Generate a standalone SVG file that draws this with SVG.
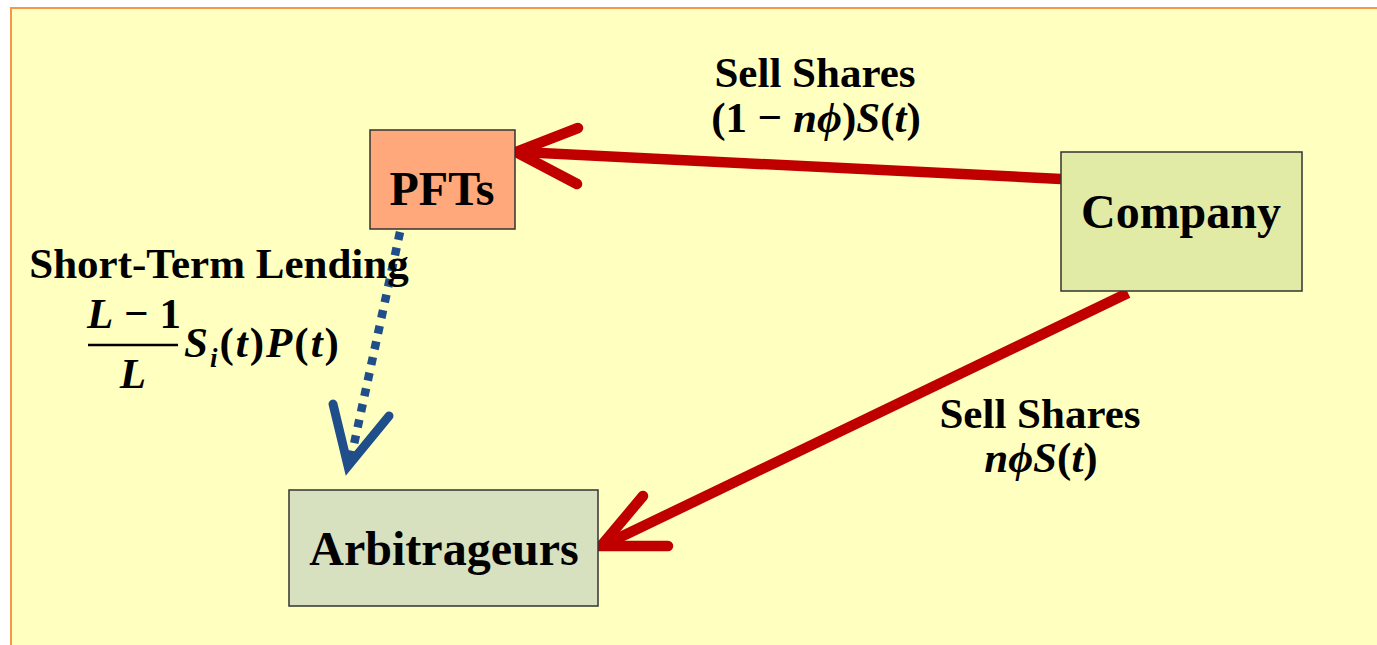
<svg xmlns="http://www.w3.org/2000/svg" width="1377" height="645" viewBox="0 0 1377 645">
  <style>
    text { font-family: "Liberation Serif", "Times New Roman", serif; font-weight: bold; fill: #000; }
    .node rect { stroke: #333; stroke-width: 1.5; }
    .lbl { font-size: 43px; }
    .big { font-size: 48px; }
    .it { font-style: italic; }
    .red { stroke: #C00000; stroke-width: 10.5; fill: none; }
    .redhead { stroke: #C00000; stroke-width: 10.5; fill: none; stroke-linecap: round; stroke-linejoin: miter; }
    .blue { stroke: #1F4E8A; stroke-width: 8.5; fill: none; stroke-dasharray: 8 8; }
    .bluehead { stroke: #1F4E8A; stroke-width: 9; fill: none; stroke-linecap: round; stroke-linejoin: miter; }
  </style>

  <!-- page background -->
  <rect x="0" y="0" width="1377" height="645" fill="#FFFFFF"/>
  <rect x="11" y="8" width="1380" height="660" fill="#FFFFC0" stroke="#F79646" stroke-width="2"/>

  <!-- connectors -->
  <g id="connectors">
    <!-- Company to PFTs -->
    <line class="red" x1="1061" y1="179" x2="521" y2="152"/>
    <polyline class="redhead" points="578,128 516,152 577,184"/>
    <!-- Company to Arbitrageurs -->
    <line class="red" x1="1128" y1="293" x2="606" y2="544"/>
    <polyline class="redhead" points="643,496 601,546 668,546"/>
    <!-- PFTs to Arbitrageurs (short-term lending) -->
    <line class="blue" x1="400" y1="232" x2="351" y2="458"/>
    <polyline class="bluehead" points="333,404 348,466 389,416"/>
  </g>

  <!-- connector labels -->
  <g id="labels">
    <text class="lbl" x="815" y="87" text-anchor="middle">Sell Shares</text>
    <text class="lbl" x="816" y="132" text-anchor="middle">(1 − <tspan class="it">nϕ</tspan>)<tspan class="it">S</tspan>(<tspan class="it">t</tspan>)</text>

    <text class="lbl" x="1040" y="428" text-anchor="middle">Sell Shares</text>
    <text class="lbl" x="1041" y="472" text-anchor="middle"><tspan class="it">nϕS</tspan>(<tspan class="it">t</tspan>)</text>

    <text class="lbl" x="219" y="278" text-anchor="middle">Short-Term Lending</text>
    <text class="lbl" x="134" y="328" text-anchor="middle"><tspan class="it">L</tspan> − 1</text>
    <line x1="88" y1="345" x2="178" y2="345" stroke="#000" stroke-width="2.5"/>
    <text class="lbl it" x="133" y="388" text-anchor="middle">L</text>
    <text class="lbl" x="184" y="357" letter-spacing="2"><tspan class="it">S</tspan><tspan class="it" font-size="27px" dy="10">i</tspan><tspan dy="-10">(</tspan><tspan class="it">t</tspan>)<tspan class="it">P</tspan>(<tspan class="it">t</tspan>)</text>
  </g>

  <!-- nodes -->
  <g id="pfts" class="node">
    <rect x="370" y="130" width="145" height="99" fill="#FFA87C"/>
    <text class="big" x="442" y="205" text-anchor="middle">PFTs</text>
  </g>
  <g id="company" class="node">
    <rect x="1061" y="152" width="241" height="139" fill="#E2EBA6"/>
    <text class="big" x="1181" y="228" text-anchor="middle">Company</text>
  </g>
  <g id="arbitrageurs" class="node">
    <rect x="289" y="490" width="309" height="116" fill="#D7E0BF"/>
    <text class="big" x="444" y="565" text-anchor="middle">Arbitrageurs</text>
  </g>
</svg>
